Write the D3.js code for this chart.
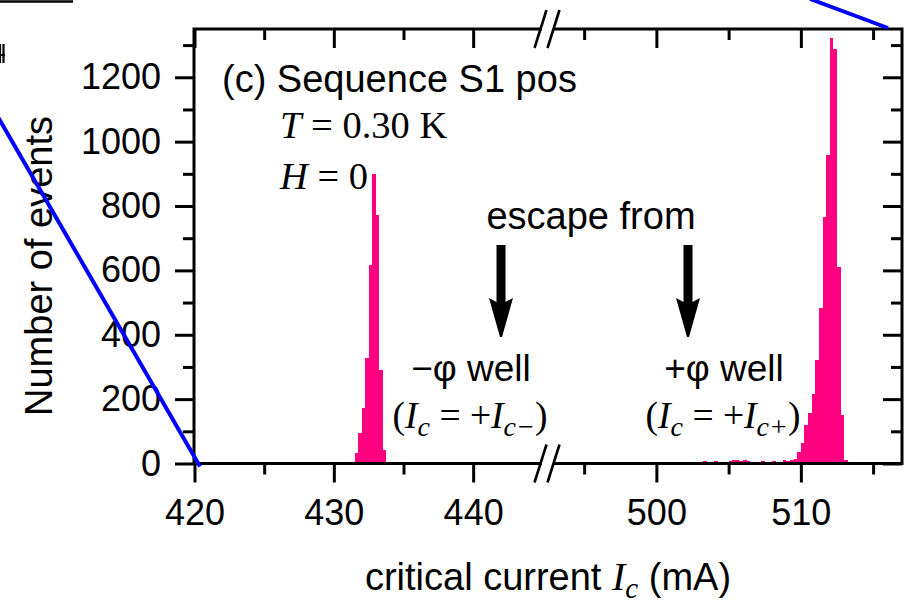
<!DOCTYPE html>
<html>
<head>
<meta charset="utf-8">
<script src="https://cdn.jsdelivr.net/npm/d3@7"></script>
<style>
  body { margin: 0; background: #fff; }
  svg { display: block; }
  .tick text { font-family: "Liberation Sans", Arial, sans-serif; font-size: 36px; fill: #000; }
</style>
</head>
<body>
<svg id="chart" width="910" height="605"></svg>
<script>
// Histogram of switching currents, 0.25 mA bins (bin start, counts)
const binWidth = 0.25;

// escape from the -phi well (left segment of the broken axis)
const lowBinStarts = [427.25, 427.75, 431.25, 431.5, 431.75, 432.0, 432.25, 432.5, 432.75, 433.0, 433.25, 433.5];
const lowCounts    = [5,      5,      5,      32,    95,     172,   327,    617,   900,    773,   291,    42];

// escape from the +phi well (right segment of the broken axis)
const highBinStarts = [503.25, 503.5, 504.0, 504.25, 505.0, 505.25, 505.5, 505.75, 506.0, 506.25,
                       507.25, 507.5, 508.0, 508.75, 509.0, 509.25,
                       509.5, 509.75, 510.0, 510.25, 510.5, 510.75, 511.0, 511.25, 511.5, 511.75,
                       512.0, 512.25, 512.5, 512.75, 513.0];
const highCounts    = [9, 6, 8, 6, 8, 12, 10, 8, 10, 8,
                       8, 6, 8, 10, 8, 12,
                       15, 36, 64, 120, 156, 216, 322, 482, 765, 960,
                       1321, 1287, 611, 150, 10];

// axis ticks
const yMajorTicks = [0, 200, 400, 600, 800, 1000, 1200];
const yMinorTicks = [100, 300, 500, 700, 900, 1100, 1300];
const xLeftMajorTicks = [420, 430, 440];
const xLeftMinorTicks = [425, 435];
const xRightMajorTicks = [500, 510];
const xRightMinorTicks = [495, 505, 515];

const svg = d3.select("#chart");
const frame = { left: 194, right: 902, top: 29, bottom: 463.5 };
const breakX = 547;

const y = d3.scaleLinear().domain([0, 1350]).range([frame.bottom, frame.top]);
const xLeft = d3.scaleLinear().domain([420, 445.3]).range([194.5, breakX]);
const xRight = d3.scaleLinear().domain([492.43, 517]).range([breakX, frame.right]);

const barColor = "#ff0080";

// bars
function drawBars(starts, counts, scale) {
  svg.append("g").selectAll("rect")
    .data(starts.map((s, i) => ({ s, c: counts[i] })))
    .join("rect")
    .attr("x", d => scale(d.s))
    .attr("width", d => scale(d.s + binWidth) - scale(d.s))
    .attr("y", d => y(d.c))
    .attr("height", d => y(0) - y(d.c))
    .attr("fill", barColor)
    .attr("shape-rendering", "crispEdges");
}
drawBars(lowBinStarts, lowCounts, xLeft);
drawBars(highBinStarts, highCounts, xRight);

// axes
function styleAxis(g) {
  g.select(".domain").remove();
  g.selectAll(".tick line").attr("stroke", "#000").attr("stroke-width", 3);
}
const major = 19, minor = 11;
const fmt = d3.format("d");

// bottom (outward)
svg.append("g").attr("transform", `translate(0,${frame.bottom})`)
  .call(d3.axisBottom(xLeft).tickValues(xLeftMajorTicks).tickSize(major).tickPadding(17).tickFormat(fmt)).call(styleAxis);
svg.append("g").attr("transform", `translate(0,${frame.bottom})`)
  .call(d3.axisBottom(xLeft).tickValues(xLeftMinorTicks).tickSize(minor).tickFormat("")).call(styleAxis);
svg.append("g").attr("transform", `translate(0,${frame.bottom})`)
  .call(d3.axisBottom(xRight).tickValues(xRightMajorTicks).tickSize(major).tickPadding(17).tickFormat(fmt)).call(styleAxis);
svg.append("g").attr("transform", `translate(0,${frame.bottom})`)
  .call(d3.axisBottom(xRight).tickValues(xRightMinorTicks).tickSize(minor).tickFormat("")).call(styleAxis);

// top (inward)
svg.append("g").attr("transform", `translate(0,${frame.top})`)
  .call(d3.axisTop(xLeft).tickValues(xLeftMajorTicks).tickSize(-major).tickFormat("")).call(styleAxis);
svg.append("g").attr("transform", `translate(0,${frame.top})`)
  .call(d3.axisTop(xLeft).tickValues(xLeftMinorTicks).tickSize(-minor).tickFormat("")).call(styleAxis);
svg.append("g").attr("transform", `translate(0,${frame.top})`)
  .call(d3.axisTop(xRight).tickValues(xRightMajorTicks).tickSize(-major).tickFormat("")).call(styleAxis);
svg.append("g").attr("transform", `translate(0,${frame.top})`)
  .call(d3.axisTop(xRight).tickValues(xRightMinorTicks).tickSize(-minor).tickFormat("")).call(styleAxis);

// left (outward)
svg.append("g").attr("transform", `translate(${frame.left},0)`)
  .call(d3.axisLeft(y).tickValues(yMajorTicks).tickSize(major).tickPadding(14).tickFormat(fmt)).call(styleAxis);
svg.append("g").attr("transform", `translate(${frame.left},0)`)
  .call(d3.axisLeft(y).tickValues(yMinorTicks).tickSize(minor).tickFormat("")).call(styleAxis);

// right (inward)
svg.append("g").attr("transform", `translate(${frame.right},0)`)
  .call(d3.axisRight(y).tickValues(yMajorTicks).tickSize(-major).tickFormat("")).call(styleAxis);
svg.append("g").attr("transform", `translate(${frame.right},0)`)
  .call(d3.axisRight(y).tickValues(yMinorTicks).tickSize(-minor).tickFormat("")).call(styleAxis);

// frame
svg.append("rect")
  .attr("x", frame.left).attr("y", frame.top)
  .attr("width", frame.right - frame.left).attr("height", frame.bottom - frame.top)
  .attr("fill", "none").attr("stroke", "#000").attr("stroke-width", 3);

// axis break marks on top and bottom
[frame.top, frame.bottom].forEach(yy => {
  svg.append("rect").attr("x", breakX - 5).attr("y", yy - 3).attr("width", 12).attr("height", 6).attr("fill", "#fff");
  [-6.5, 6.5].forEach(off => {
    svg.append("line")
      .attr("x1", breakX + off + 6).attr("y1", yy - 19)
      .attr("x2", breakX + off - 6).attr("y2", yy + 19)
      .attr("stroke", "#000").attr("stroke-width", 2.6);
  });
});

// annotations
const sans = "'Liberation Sans', Arial, sans-serif";
const serif = "'Liberation Serif', 'Times New Roman', serif";

svg.append("text").attr("x", 222).attr("y", 92)
  .attr("font-family", sans).attr("font-size", 38).text("(c) Sequence S1 pos");

const tLine = svg.append("text").attr("x", 280).attr("y", 138)
  .attr("font-family", serif).attr("font-size", 38.5);
tLine.append("tspan").attr("font-style", "italic").text("T");
tLine.append("tspan").text(" = 0.30 K");

const hLine = svg.append("text").attr("x", 280).attr("y", 189)
  .attr("font-family", serif).attr("font-size", 38.5);
hLine.append("tspan").attr("font-style", "italic").text("H");
hLine.append("tspan").text(" = 0");

svg.append("text").attr("x", 591).attr("y", 229).attr("text-anchor", "middle")
  .attr("font-family", sans).attr("font-size", 38).text("escape from");

// arrows
[501, 688].forEach(cx => {
  svg.append("path")
    .attr("d", `M${cx - 4.5},245 L${cx + 4.5},245 L${cx + 4.5},302 L${cx + 12},298 L${cx + 1},337 L${cx - 1},337 L${cx - 12},298 L${cx - 4.5},302 Z`)
    .attr("fill", "#000");
});

svg.append("text").attr("x", 471).attr("y", 381).attr("text-anchor", "middle")
  .attr("font-family", sans).attr("font-size", 37).text("\u2212\u03c6 well");
svg.append("text").attr("x", 724).attr("y", 381).attr("text-anchor", "middle")
  .attr("font-family", sans).attr("font-size", 37).text("+\u03c6 well");

function currentLabel(cx, sign) {
  const t = svg.append("text").attr("x", cx).attr("y", 428).attr("text-anchor", "middle")
    .attr("font-family", serif).attr("font-size", 37.5);
  t.append("tspan").text("(");
  t.append("tspan").attr("font-style", "italic").text("I");
  t.append("tspan").attr("font-style", "italic").attr("font-size", 28).attr("dy", 8).text("c");
  t.append("tspan").attr("dy", -8).text(" = +");
  t.append("tspan").attr("font-style", "italic").text("I");
  t.append("tspan").attr("font-style", "italic").attr("font-size", 28).attr("dy", 8).text("c" + sign);
  t.append("tspan").attr("dy", -8).text(")");
}
currentLabel(470, "\u2212");
currentLabel(723, "+");

// axis titles
const xTitle = svg.append("text").attr("x", 548).attr("y", 590).attr("text-anchor", "middle")
  .attr("font-family", sans).attr("font-size", 38);
xTitle.append("tspan").text("critical current ");
xTitle.append("tspan").attr("font-family", serif).attr("font-style", "italic").attr("font-size", 40).text("I");
xTitle.append("tspan").attr("font-family", serif).attr("font-style", "italic").attr("font-size", 29).attr("dy", 8).text("c");
xTitle.append("tspan").attr("dy", -8).text(" (mA)");

svg.append("text").attr("transform", "translate(52,266) rotate(-90)").attr("text-anchor", "middle")
  .attr("font-family", sans).attr("font-size", 38).text("Number of events");

// connector lines from the neighbouring panel
svg.append("line").attr("x1", -2).attr("y1", 117).attr("x2", 200).attr("y2", 466.5)
  .attr("stroke", "#0000ff").attr("stroke-width", 4);
svg.append("line").attr("x1", 810).attr("y1", -1).attr("x2", 888).attr("y2", 28)
  .attr("stroke", "#0000ff").attr("stroke-width", 4);
svg.append("line").attr("x1", 0).attr("y1", 1.5).attr("x2", 73).attr("y2", 1.5)
  .attr("stroke", "#000").attr("stroke-width", 2.5);
// edge of a glyph from the neighbouring panel
svg.append("path").attr("d", "M0,44 L0,63 M0,55 L5,55 M3.5,44 L3.5,63")
  .attr("stroke", "#000").attr("stroke-width", 2.2).attr("fill", "none");
</script>
</body>
</html>
